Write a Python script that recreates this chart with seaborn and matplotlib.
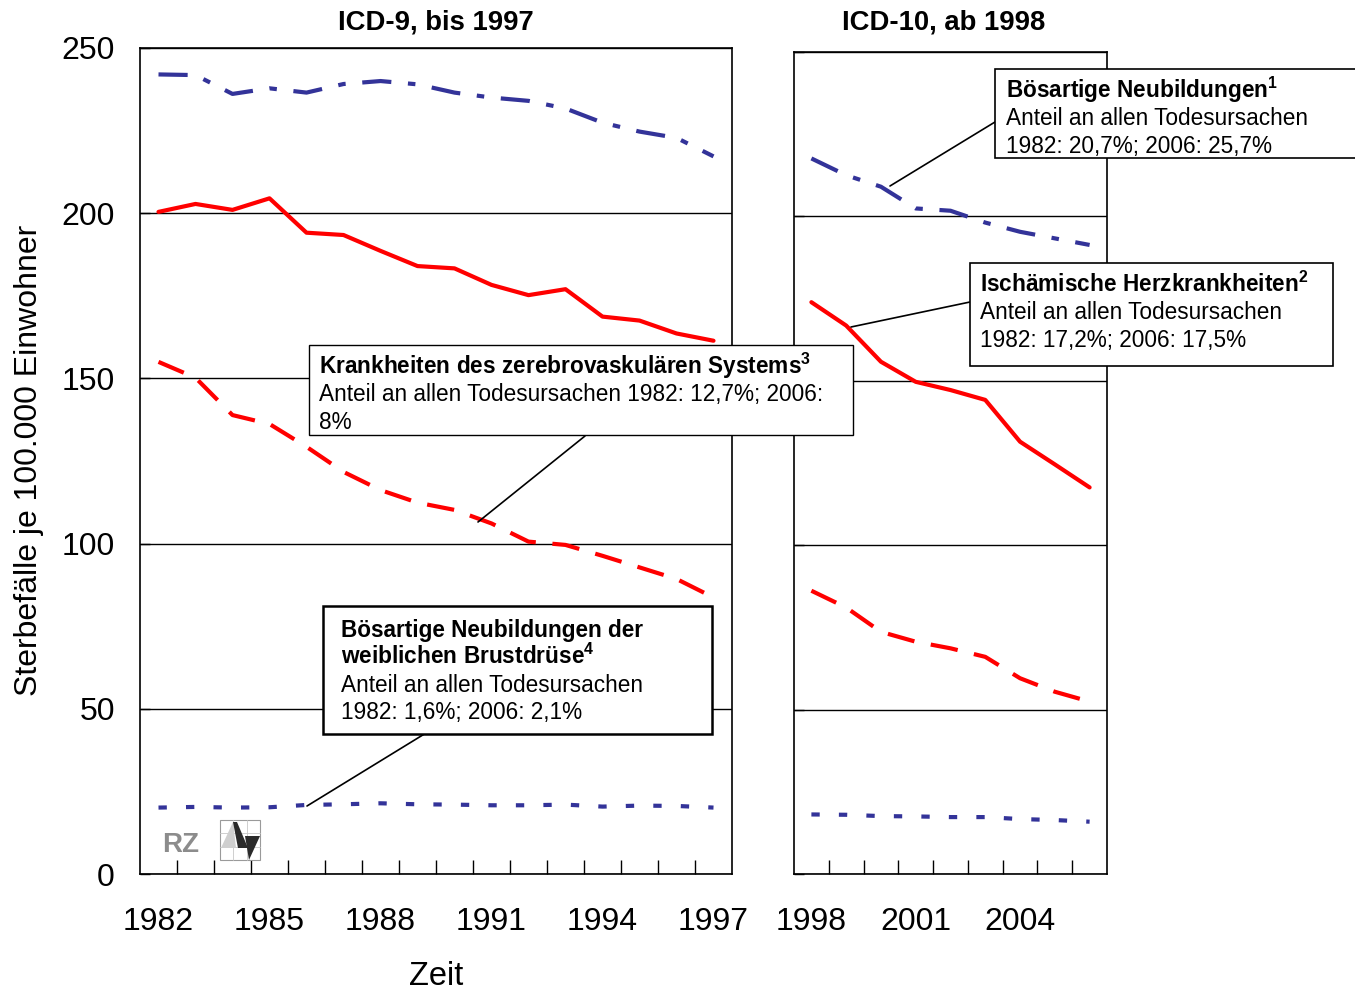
import pandas as pd
import matplotlib.pyplot as plt
import seaborn as sns
from matplotlib.patches import Rectangle, Polygon
from matplotlib.lines import Line2D

# Daten (Sterbefälle je 100.000 Einwohner)
jahre_icd9 = list(range(1982, 1998))
jahre_icd10 = list(range(1998, 2007))

neubildungen_icd9 = [242.0, 241.8, 236.1, 237.8, 236.5, 239.1, 240.0, 239.0,
                     236.5, 235.0, 234.0, 231.7, 227.4, 224.7, 222.8, 217.2]
herz_icd9 = [200.4, 202.8, 201.0, 204.5, 194.1, 193.4, 188.6, 184.0,
             183.3, 178.3, 175.2, 177.0, 168.7, 167.5, 163.6, 161.4]
zerebro_icd9 = [155.0, 150.2, 138.9, 136.2, 129.3, 121.7, 116.2, 112.4,
                110.2, 106.1, 100.6, 99.6, 96.3, 92.8, 89.3, 83.7]
brust_icd9 = [20.1, 20.3, 20.1, 20.2, 20.9, 21.1, 21.4, 21.1,
              21.0, 20.8, 20.8, 21.0, 20.4, 20.7, 20.6, 20.1]

neubildungen_icd10 = [217.5, 212.4, 208.9, 202.3, 201.6, 198.0, 195.2, 193.2, 191.2]
herz_icd10 = [173.8, 166.7, 155.7, 149.6, 147.1, 144.1, 131.4, 124.5, 117.5]
zerebro_icd10 = [86.1, 81.0, 73.6, 70.6, 68.6, 66.0, 59.5, 55.4, 52.4]
brust_icd10 = [18.1, 18.0, 17.6, 17.5, 17.3, 17.3, 16.7, 16.4, 15.9]

reihen = ["Neubildungen", "Herz", "Zerebro", "Brust"]
farben = {"Neubildungen": "#333399", "Herz": "#ff0000",
          "Zerebro": "#ff0000", "Brust": "#333399"}
striche = {"Neubildungen": (7.0, 4.0, 1.8, 4.0), "Herz": "",
           "Zerebro": (6.6, 4.0), "Brust": (2.0, 4.6)}


def lang(jahre, werte):
    teile = []
    for name, w in zip(reihen, werte):
        teile.append(pd.DataFrame({"Jahr": jahre, "Wert": w, "Reihe": name}))
    return pd.concat(teile, ignore_index=True)


df9 = lang(jahre_icd9, [neubildungen_icd9, herz_icd9, zerebro_icd9, brust_icd9])
df10 = lang(jahre_icd10, [neubildungen_icd10, herz_icd10, zerebro_icd10, brust_icd10])

sns.set_theme(style="white")
plt.rcParams['font.family'] = ['Liberation Sans', 'DejaVu Sans']
plt.rcParams.update({
    'text.color': 'black', 'axes.labelcolor': 'black',
    'xtick.color': 'black', 'ytick.color': 'black',
    'mathtext.fontset': 'custom', 'mathtext.rm': 'Liberation Sans',
    'mathtext.bf': 'Liberation Sans:bold',
})

W, H = 1355, 989
fig = plt.figure(figsize=(W / 100, H / 100), dpi=100)


def fx(px):
    return px / W


def fy(py):
    return 1 - py / H


ax1 = fig.add_axes([fx(140), fy(874), 592 / W, 826 / H])
ax2 = fig.add_axes([fx(794), fy(874), 313 / W, 822.5 / H])

for ax, df, jahre in [(ax1, df9, jahre_icd9), (ax2, df10, jahre_icd10)]:
    sns.lineplot(data=df, x="Jahr", y="Wert", hue="Reihe", style="Reihe",
                 palette=farben, dashes=striche, linewidth=3.0,
                 legend=False, ax=ax)
    ax.set_xlim(jahre[0] - 0.5, jahre[-1] + 0.5)
    ax.set_ylim(0, 250)
    ax.set_yticks([0, 50, 100, 150, 200, 250])
    ax.yaxis.grid(True, color="black", linewidth=1)
    ax.xaxis.grid(False)
    ax.set_xticks([j + 0.5 for j in jahre[:-1]], minor=True)
    ax.set_xticks(jahre[::3])
    ax.tick_params(axis="x", which="major", length=0, pad=24, labelsize=23)
    ax.tick_params(axis="x", which="minor", direction="in", length=10,
                   width=1, color="black", bottom=True)
    ax.tick_params(axis="y", direction="in", length=7, width=1, color="black",
                   left=True, pad=18, labelsize=23)
    for s in ax.spines.values():
        s.set_color("black")
        s.set_linewidth(1.2)
    ax.set_xlabel("")
    ax.set_ylabel("")

ax2.set_yticklabels([])
ax1.set_ylabel("Sterbefälle je 100.000 Einwohner", fontsize=23)
ax1.yaxis.set_label_coords(-0.162, 0.501)
ax1.set_xlabel("Zeit", fontsize=23.5)
ax1.xaxis.set_label_coords(0.5, -0.105)

fig.text(fx(436), fy(22), "ICD-9, bis 1997", ha="center", va="center",
         fontsize=19.8, fontweight="bold")
fig.text(fx(944), fy(22), "ICD-10, ab 1998", ha="center", va="center",
         fontsize=19.8, fontweight="bold")

# Beschriftungskästen mit Hinweislinien (Grundlinien der Zeilen in Pixel)
kaesten = [
    ((995, 69, 420, 89), 1006, [98, 125, 153],
     [r"Bösartige Neubildungen$^\mathbf{1}$", "Anteil an allen Todesursachen",
      "1982: 20,7%; 2006: 25,7%"], ((890, 186), (995, 122)), 1.2),
    ((970, 263, 363, 103), 980, [292, 319, 347],
     [r"Ischämische Herzkrankheiten$^\mathbf{2}$", "Anteil an allen Todesursachen",
      "1982: 17,2%; 2006: 17,5%"], ((851, 327), (970, 302)), 1.2),
    ((309, 345, 544, 90), 319, [374, 401, 429],
     [r"Krankheiten des zerebrovaskulären Systems$^\mathbf{3}$",
      "Anteil an allen Todesursachen 1982: 12,7%; 2006:", "8%"],
     ((478, 522), (585, 436)), 1.0),
    ((323, 606, 389, 128), 341, [637, 664, 692, 719],
     ["Bösartige Neubildungen der", r"weiblichen Brustdrüse$^\mathbf{4}$",
      "Anteil an allen Todesursachen", "1982: 1,6%; 2006: 2,1%"],
     ((307, 806), (426, 733)), 1.8),
]

for (bx, by, bw, bh), tx, zeilen_y, zeilen, (p0, p1), lw in kaesten:
    fig.add_artist(Line2D([fx(p0[0]), fx(p1[0])], [fy(p0[1]), fy(p1[1])],
                          color="black", linewidth=1.2, zorder=5))
    fig.add_artist(Rectangle((fx(bx), fy(by + bh)), bw / W, bh / H,
                             facecolor="white", edgecolor="black",
                             linewidth=lw, zorder=6))
    n_fett = 2 if len(zeilen) == 4 else 1
    for i, (zy, z) in enumerate(zip(zeilen_y, zeilen)):
        fig.text(fx(tx), fy(zy), z, ha="left", va="baseline", fontsize=16.3,
                 fontweight="bold" if i < n_fett else "normal", zorder=7)

# Logo unten links
fig.text(fx(181), fy(845), "RZ", ha="center", va="center", fontsize=20,
         fontweight="bold", color="#8c8c8c", zorder=7)
fig.add_artist(Rectangle((fx(220), fy(860)), 40 / W, 40 / H, facecolor="white",
                         edgecolor="#9a9a9a", linewidth=0.8, zorder=6))
for g in [233, 247]:
    fig.add_artist(Line2D([fx(g), fx(g)], [fy(820), fy(860)], color="#c8c8c8",
                          linewidth=0.6, zorder=6))
for g in [833, 847]:
    fig.add_artist(Line2D([fx(220), fx(260)], [fy(g), fy(g)], color="#c8c8c8",
                          linewidth=0.6, zorder=6))
fig.add_artist(Polygon([(fx(221), fy(848)), (fx(233), fy(822)), (fx(236), fy(848))],
                       closed=True, facecolor="#cfcfcf", edgecolor="none", zorder=6))
fig.add_artist(Polygon([(fx(233), fy(822)), (fx(237), fy(822)), (fx(248), fy(848)),
                        (fx(238), fy(848))],
                       closed=True, facecolor="#2a2a2a", edgecolor="none", zorder=7))
fig.add_artist(Polygon([(fx(245), fy(836)), (fx(260), fy(836)), (fx(249), fy(860))],
                       closed=True, facecolor="#2a2a2a", edgecolor="none", zorder=7))

fig.savefig("out.png", dpi=100)
